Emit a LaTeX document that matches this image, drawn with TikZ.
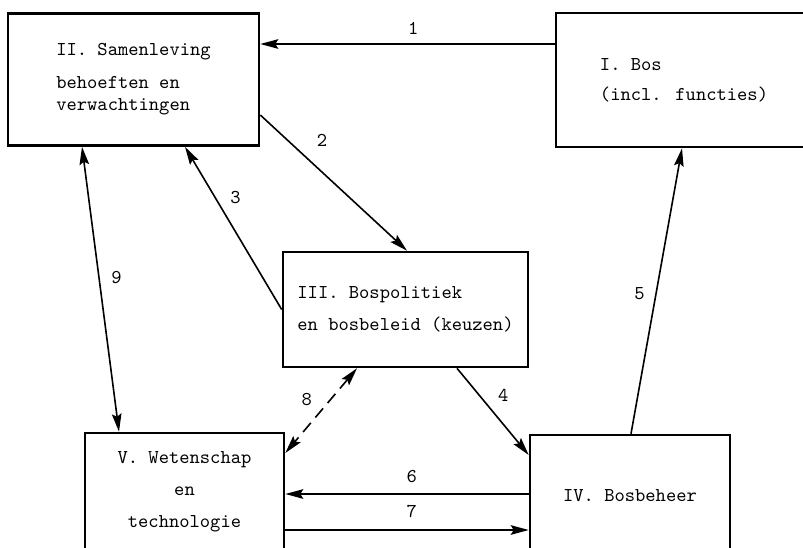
\documentclass[tikz,border=0pt]{standalone}
\usetikzlibrary{positioning,arrows.meta}

\begin{document}
\begin{tikzpicture}[x=0.5pt, y=-0.5pt, >={Stealth[length=9pt,width=4.8pt,inset=1.5pt]},
  font=\ttfamily\fontsize{9.8}{11}\selectfont,
  box/.style={draw, line width=1.3pt, inner sep=0pt, align=left},
  lnk/.style={line width=0.8pt}]
\useasboundingbox (0,0) rectangle (803,547);
\clip (0,0) rectangle (803,547);
% the five boxes
\node[box, minimum width=125.5pt, minimum height=66pt] (sam) at (133.5,79.5) {II. Samenleving\\[5.5pt]behoeften en\\verwachtingen};
\node[box, minimum width=128pt, minimum height=67pt] (bos) at (684,80) {I. Bos\\[4pt](incl. functies)};
\node[box, minimum width=122.5pt, minimum height=57.5pt] (pol) at (405.5,309.5) {III. Bospolitiek\\[5pt]en bosbeleid (keuzen)};
\node[box, align=center, minimum width=99.5pt, minimum height=58.5pt] (wet) at (184.5,491.5) {V. Wetenschap\\[5pt]en\\[5pt]technologie};
\node[box, minimum width=100pt, minimum height=61pt] (bhr) at (630,496) {IV. Bosbeheer};
% relations
\draw[lnk,->] ([yshift=18pt]bos.west) -- node[pos=0.48, above=1pt] {1} ([yshift=17.75pt]sam.east);
\draw[lnk,->] ([yshift=-17.75pt]sam.east) -- node[pos=0.31, above right=2.5pt] {2} ([xshift=0.75pt]pol.north);
\draw[lnk,->] (pol.west) -- node[pos=0.69, right=4pt] {3} ([xshift=25.75pt]sam.south);
\draw[lnk,->] ([xshift=25.75pt]pol.south) -- node[pos=0.31, right=5.7pt] {4} ([yshift=20.5pt]bhr.west);
\draw[lnk,->] ([xshift=0.5pt]bhr.north) -- node[pos=0.49, left=1.9pt] {5} ([xshift=-1pt]bos.south);
\draw[lnk,->] ([yshift=1pt]bhr.west) -- node[pos=0.48, above=2pt] {6} ([yshift=-1.25pt]wet.east);
\draw[lnk,->] ([yshift=-19.25pt]wet.east) -- node[pos=0.52, above=2.6pt] {7} ([yshift=-17pt]bhr.west);
\draw[lnk,<->, dash pattern=on 6pt off 3.5pt] ([xshift=-24.25pt]pol.south) -- node[pos=0.37, left=5.5pt] {8} ([yshift=19.25pt]wet.east);
\draw[lnk,<->] ([xshift=-25.75pt]sam.south) -- node[pos=0.46, right=2.4pt] {9} ([xshift=-32.75pt]wet.north);
\end{tikzpicture}
\end{document}
